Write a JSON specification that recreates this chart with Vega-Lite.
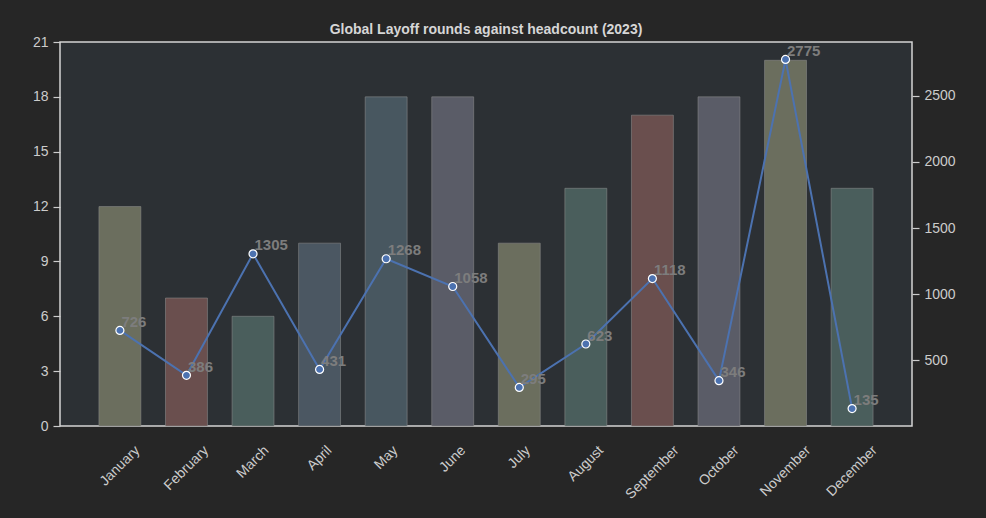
{
  "$schema": "https://vega.github.io/schema/vega-lite/v6.json",
  "width": 852,
  "height": 384,
  "autosize": {"type": "none"},
  "padding": {"left": 60, "top": 42, "right": 74, "bottom": 92},
  "background": "#262626",
  "config": {
    "view": {"fill": "#2c3034", "stroke": "#d4d4d4", "strokeWidth": 1.5},
    "font": "Liberation Sans",
    "axis": {
      "labelFont": "Liberation Sans",
      "labelFontSize": 14,
      "labelColor": "#cccccc",
      "tickColor": "#cccccc",
      "domain": false,
      "grid": false
    }
  },
  "title": {
    "text": "Global Layoff rounds against headcount (2023)",
    "fontSize": 14,
    "fontWeight": "bold",
    "color": "#d6d6d6",
    "offset": -2,
    "anchor": "middle",
    "font": "Liberation Sans"
  },
  "data": {
    "values": [
      {"month": "January", "rounds": 12, "headcount": 726},
      {"month": "February", "rounds": 7, "headcount": 386},
      {"month": "March", "rounds": 6, "headcount": 1305},
      {"month": "April", "rounds": 10, "headcount": 431},
      {"month": "May", "rounds": 18, "headcount": 1268},
      {"month": "June", "rounds": 18, "headcount": 1058},
      {"month": "July", "rounds": 10, "headcount": 295},
      {"month": "August", "rounds": 13, "headcount": 623},
      {"month": "September", "rounds": 17, "headcount": 1118},
      {"month": "October", "rounds": 18, "headcount": 346},
      {"month": "November", "rounds": 20, "headcount": 2775},
      {"month": "December", "rounds": 13, "headcount": 135}
    ]
  },
  "encoding": {
    "x": {
      "field": "month",
      "type": "nominal",
      "sort": null,
      "scale": {"type": "band", "paddingInner": 0.37, "paddingOuter": 0.585},
      "axis": {
        "title": null,
        "ticks": false,
        "tickSize": 0,
        "labelAngle": -45,
        "labelAlign": "right",
        "labelBaseline": "top",
        "labelPadding": 17,
        "labelOffset": {
          "condition": [
            {"test": "datum.value === 'January'", "value": 12.7},
            {"test": "datum.value === 'February'", "value": 14.9},
            {"test": "datum.value === 'March'", "value": 8.8},
            {"test": "datum.value === 'April'", "value": 5},
            {"test": "datum.value === 'May'", "value": 4.4},
            {"test": "datum.value === 'June'", "value": 5.8},
            {"test": "datum.value === 'July'", "value": 3.9},
            {"test": "datum.value === 'August'", "value": 10.5},
            {"test": "datum.value === 'September'", "value": 19.3},
            {"test": "datum.value === 'October'", "value": 12.7},
            {"test": "datum.value === 'November'", "value": 17.9}
          ],
          "value": 17.9
        }
      }
    }
  },
  "layer": [
    {
      "mark": {"type": "bar", "stroke": "#8c8c8c", "strokeOpacity": 0.55, "strokeWidth": 1},
      "encoding": {
        "y": {
          "field": "rounds",
          "type": "quantitative",
          "scale": {"domain": [0, 21], "nice": false, "zero": true},
          "axis": {
            "title": null,
            "orient": "left",
            "values": [0, 3, 6, 9, 12, 15, 18, 21],
            "tickSize": 7,
            "tickWidth": 1.2,
            "labelPadding": 5
          }
        },
        "color": {
          "field": "month",
          "type": "nominal",
          "sort": null,
          "legend": null,
          "scale": {
            "domain": ["January", "February", "March", "April", "May", "June", "July", "August", "September", "October", "November", "December"],
            "range": ["#6b6e5e", "#6a4f4e", "#4a5e5c", "#4b5762", "#485760", "#5a5c67", "#6b6e5e", "#4a5e5c", "#6a4f4e", "#5a5c67", "#6b6e5e", "#4a5e5c"]
          }
        }
      }
    },
    {
      "encoding": {
        "y": {
          "field": "headcount",
          "type": "quantitative",
          "scale": {"domain": [3, 2907], "nice": false, "zero": false},
          "axis": {
            "title": null,
            "orient": "right",
            "values": [500, 1000, 1500, 2000, 2500],
            "format": "d",
            "tickSize": 7,
            "tickWidth": 1.2,
            "labelPadding": 5
          }
        }
      },
      "layer": [
        {"mark": {"type": "line", "color": "#4c72b0", "strokeWidth": 2}},
        {"mark": {"type": "point", "filled": true, "fill": "#4c72b0", "stroke": "#ffffff", "strokeWidth": 1.2, "size": 64, "opacity": 1}},
        {
          "mark": {"type": "text", "align": "left", "baseline": "alphabetic", "dx": 1.5, "dy": -3.5, "fontSize": 15, "fontWeight": "bold", "color": "#7d7d7d", "font": "Liberation Sans"},
          "encoding": {"text": {"field": "headcount", "type": "quantitative", "format": "d"}}
        }
      ]
    }
  ],
  "resolve": {"scale": {"y": "independent"}}
}
